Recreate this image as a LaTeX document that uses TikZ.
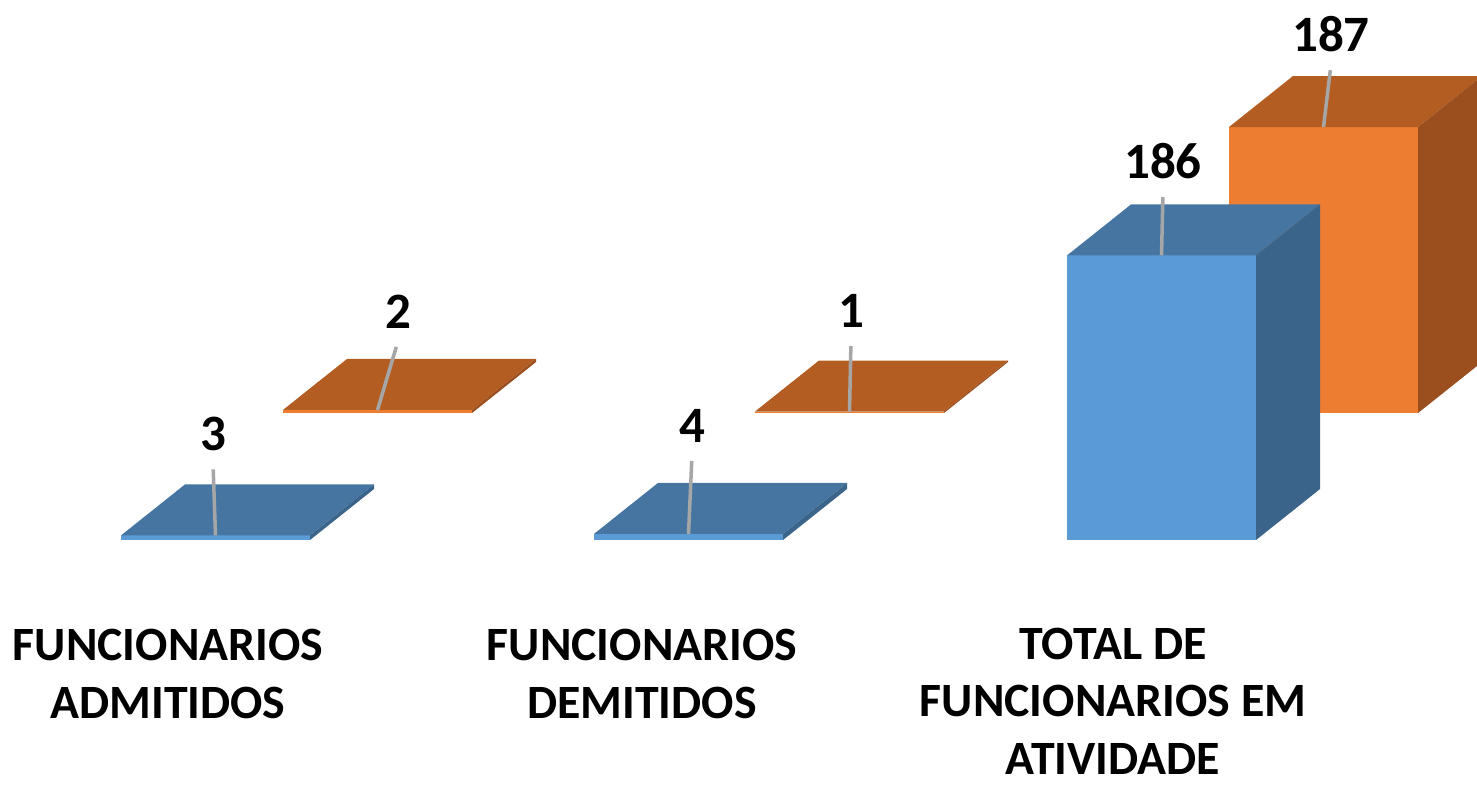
\documentclass[tikz,border=0pt]{standalone}
\usepackage{fontspec}
\setmainfont{Carlito}
\usepackage{tikz}
\usetikzlibrary{positioning,calc}

\definecolor{blueFront}{HTML}{5B9BD5}
\definecolor{blueTop}{HTML}{4675A2}
\definecolor{blueSide}{HTML}{3A6489}
\definecolor{orangeFront}{HTML}{ED7D31}
\definecolor{orangeTop}{HTML}{B35D22}
\definecolor{orangeSide}{HTML}{9B4F1E}

% front-left x, base y, height, front, top, side
\newcommand{\barbox}[6]{%
  \fill[#4] (#1,#2) rectangle ++(189,-#3);
  \fill[#5] (#1,#2-#3) -- ++(64,-51) -- ++(189,0) -- ++(-64,51) -- cycle;
  \fill[#6] (#1+189,#2) -- ++(64,-51) -- ++(0,-#3) -- ++(-64,51) -- cycle;
}

\begin{document}
\begin{tikzpicture}[
    x=0.01cm, y=-0.01cm,
    val/.style={font=\fontsize{14.5}{17}\selectfont\bfseries},
    cat/.style={font=\fontsize{13.6}{16.4}\selectfont\bfseries, align=center},
    leader/.style={draw=black!35, line width=1pt, shorten <=0.6mm}
]
\useasboundingbox (0,0) rectangle (1477,784);

% Funcionarios admitidos
\barbox{283}{413}{3.1}{orangeFront}{orangeTop}{orangeSide}
\barbox{121}{540}{4.6}{blueFront}{blueTop}{blueSide}
\coordinate (t2) at (377.5,410);
\coordinate (t3) at (215.5,535.4);
\node[val] (v2) at (398,312) {2};
\node[val] (v3) at (213,434) {3};
\draw[leader] (v2.south) -- (t2);
\draw[leader] (v3.south) -- (t3);

% Funcionarios demitidos
\barbox{755}{413}{1.5}{orangeFront}{orangeTop}{orangeSide}
\barbox{594}{540}{6.1}{blueFront}{blueTop}{blueSide}
\coordinate (t1) at (849.5,411.5);
\coordinate (t4) at (688.5,533.9);
\node[val] (v1) at (851,311) {1};
\node[val] (v4) at (692,426) {4};
\draw[leader] (v1.south) -- (t1);
\draw[leader] (v4.south) -- (t4);

% Total em atividade
\barbox{1229}{413}{286}{orangeFront}{orangeTop}{orangeSide}
\barbox{1067}{540}{284.6}{blueFront}{blueTop}{blueSide}
\coordinate (t187) at (1323.5,127);
\coordinate (t186) at (1161.5,255.4);
\node[val] (v187) at (1331,34) {187};
\node[val] (v186) at (1163,161) {186};
\draw[leader] (v187.south) -- (t187);
\draw[leader] (v186.south) -- (t186);

% categorias
\node[cat] (adm) at (168,674) {FUNCIONARIOS\\ADMITIDOS};
\node[cat] (dem) at (642,674) {FUNCIONARIOS\\DEMITIDOS};
\node[cat] (tot) at (1113,701) {TOTAL DE\\FUNCIONARIOS EM\\ATIVIDADE};

\end{tikzpicture}
\end{document}
